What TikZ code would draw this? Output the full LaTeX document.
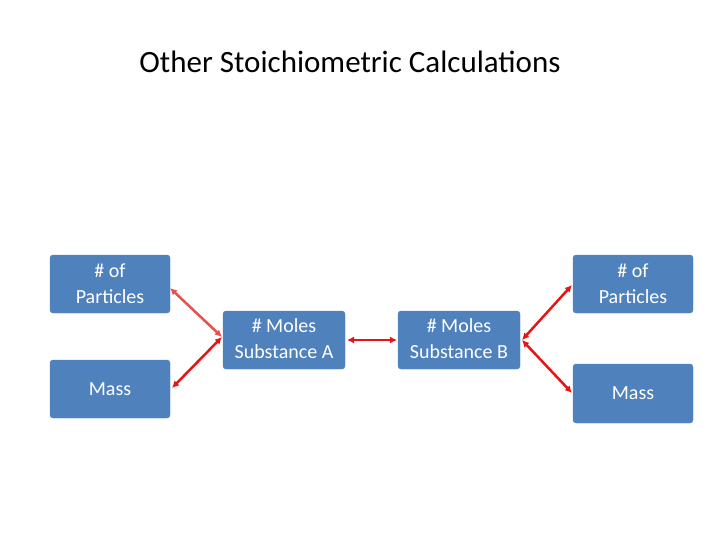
\documentclass[tikz,border=0pt]{standalone}
\usepackage{fontspec}
\setmainfont{Carlito}
\usetikzlibrary{arrows.meta}
\begin{document}
\begin{tikzpicture}[x=1pt,y=-1pt,
 box/.style={fill={rgb,255:red,79;green,129;blue,189},draw={rgb,255:red,79;green,129;blue,189},rounded corners=3pt,minimum width=120pt,minimum height=58pt,inner sep=0pt},
 lbl/.style={text=white,font=\fontsize{20}{26}\selectfont,align=center},
 arr/.style={{Latex[length=7pt,width=7pt]}-{Latex[length=7pt,width=7pt]},line width=2.5pt,draw={rgb,255:red,230;green,20;blue,20}}]
\useasboundingbox (0,0) rectangle (720,540);
\node[font=\fontsize{31}{36}\selectfont] (t) at (350,62) {Other Stoichiometric Calculations};
\node[box] (p1) at (110,284) {};
\node[lbl] (p1t) at (110,284) {\# of\\Particles};
\node[box] (m1) at (110,389) {};
\node[lbl] (m1t) at (110,389) {Mass};
\node[box,minimum width=122pt] (a) at (284,340) {};
\node[lbl] (at) at (284,339) {\# Moles\\Substance A};
\node[box,minimum width=122pt] (b) at (459,340) {};
\node[lbl] (bt) at (459,339) {\# Moles\\Substance B};
\node[box] (p2) at (633,284) {};
\node[lbl] (p2t) at (633,284) {\# of\\Particles};
\node[box,minimum height=59pt] (m2) at (633,393.5) {};
\node[lbl] (m2t) at (633,393.5) {Mass};
\coordinate (p1e) at (170,288);
\coordinate (m1e) at (172,388);
\coordinate (al) at (222,337);
\coordinate (ar) at (347,340);
\coordinate (bl) at (397,340);
\coordinate (br) at (522,340);
\coordinate (p2e) at (572,285);
\coordinate (m2e) at (572,393);
\draw[arr,draw={rgb,255:red,232;green,80;blue,80}] (p1e) -- (al);
\draw[arr] (m1e) -- (al);
\draw[arr] (ar) -- (bl);
\draw[arr] (br) -- (p2e);
\draw[arr] (br) -- (m2e);
\end{tikzpicture}
\end{document}
